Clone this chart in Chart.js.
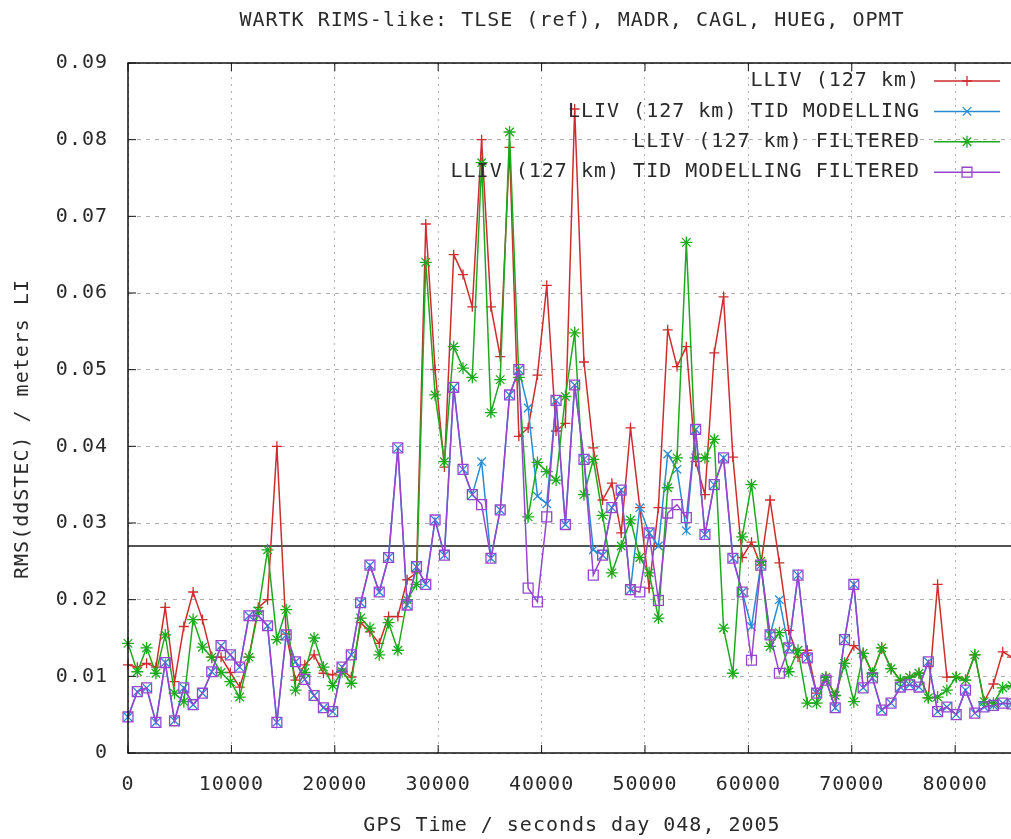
<!DOCTYPE html>
<html>
<head>
<meta charset="utf-8">
<script src="https://cdn.jsdelivr.net/npm/chart.js@4/dist/chart.umd.min.js"></script>
<style>
  body { margin: 0; background: #fff; }
  canvas { display: block; }
</style>
</head>
<body>
<canvas id="c" width="1011" height="839"></canvas>
<script>
// GPS epochs, every 900 s of day 048
const TIMES = [
  0, 900, 1800, 2700, 3600, 4500, 5400, 6300, 7200, 8100,
  9000, 9900, 10800, 11700, 12600, 13500, 14400, 15300, 16200, 17100,
  18000, 18900, 19800, 20700, 21600, 22500, 23400, 24300, 25200, 26100,
  27000, 27900, 28800, 29700, 30600, 31500, 32400, 33300, 34200, 35100,
  36000, 36900, 37800, 38700, 39600, 40500, 41400, 42300, 43200, 44100,
  45000, 45900, 46800, 47700, 48600, 49500, 50400, 51300, 52200, 53100,
  54000, 54900, 55800, 56700, 57600, 58500, 59400, 60300, 61200, 62100,
  63000, 63900, 64800, 65700, 66600, 67500, 68400, 69300, 70200, 71100,
  72000, 72900, 73800, 74700, 75600, 76500, 77400, 78300, 79200, 80100,
  81000, 81900, 82800, 83700, 84600, 85500
];

const X_TICKS = [0, 10000, 20000, 30000, 40000, 50000, 60000, 70000, 80000];
const Y_TICKS = [0, 0.01, 0.02, 0.03, 0.04, 0.05, 0.06, 0.07, 0.08, 0.09];

const LLIV = [
  .0115, .0112, .0117, .0112, .019, .0093, .0165, .021, .0174, .0125,
  .0125, .0105, .0086, .0125, .019, .020, .040, .0155, .0095, .0115,
  .0128, .0104, .0102, .0108, .0099, .017, .0158, .0143, .0178, .0178,
  .0226, .0235, .069, .050, .0373, .065, .0624, .0582, .080, .0582,
  .0517, .079, .0413, .0424, .0493, .061, .042, .043, .084, .051,
  .0398, .033, .0352, .0287, .0424, .032, .0215, .032, .0552, .0504,
  .053, .038, .0337, .0522, .0595, .0386, .0255, .0275, .0245, .033,
  .0248, .016, .0125, .0134, .0078, .0099, .0075, .0117, .014, .013,
  .0104, .0137, .011, .0095, .0099, .0104, .0072, .022, .0099, .0099,
  .0095, .0128, .0067, .009, .0132, .0125
];

const LLIV_TID = [
  .0047, .008, .0085, .004, .0118, .0042, .0085, .0063, .0078, .0106,
  .014, .0128, .0112, .0179, .0179, .0166, .004, .0154, .0119, .0096,
  .0075, .0059, .0054, .0112, .0128, .0196, .0245, .021, .0255, .0398,
  .0193, .0243, .022, .0304, .0258, .0477, .037, .0337, .038, .0254,
  .0317, .0467, .050, .045, .0335, .0325, .046, .0298, .048, .0383,
  .0265, .0258, .032, .0343, .0213, .032, .0287, .027, .039, .037,
  .029, .0422, .0285, .035, .0385, .0254, .021, .0165, .0245, .0154,
  .020, .0137, .0232, .0124, .0078, .0095, .0059, .0148, .022, .0085,
  .0098, .0056, .0065, .0086, .0089, .0086, .0119, .0054, .006, .005,
  .0082, .0052, .006, .0062, .0065, .0064
];

const LLIV_FILT = [
  .0143, .0106, .0137, .0104, .0154, .0078, .0067, .0174, .0138, .0125,
  .0105, .0093, .0073, .0125, .0185, .0265, .0148, .0187, .0082, .0105,
  .015, .0112, .0088, .0106, .0091, .0176, .0163, .0128, .017, .0134,
  .020, .022, .064, .0467, .038, .053, .0502, .049, .077, .0444,
  .0487, .081, .049, .0308, .0379, .0367, .0356, .0465, .0548, .0337,
  .0383, .031, .0235, .027, .0304, .0255, .0235, .0176, .0346, .0385,
  .0666, .0385, .0385, .0409, .0163, .0104, .0282, .035, .025, .0139,
  .0157, .0106, .0134, .0065, .0065, .0099, .0075, .0117, .0067, .013,
  .0104, .0137, .011, .0095, .0099, .0104, .0072, .0073, .0082, .0099,
  .0095, .0128, .0067, .0065, .0085, .0088
];

const LLIV_TID_FILT = [
  .0047, .008, .0085, .004, .0118, .0042, .0085, .0063, .0078, .0106,
  .014, .0128, .0112, .0179, .0179, .0166, .004, .0154, .0119, .0096,
  .0075, .0059, .0054, .0112, .0128, .0196, .0245, .021, .0255, .0398,
  .0193, .0243, .022, .0304, .0258, .0477, .037, .0337, .0324, .0254,
  .0317, .0467, .050, .0215, .0197, .0308, .046, .0298, .048, .0383,
  .0232, .0258, .032, .0343, .0213, .021, .0287, .0199, .0313, .0324,
  .0307, .0422, .0285, .035, .0385, .0254, .021, .0121, .0245, .0154,
  .0104, .0137, .0232, .0124, .0078, .0095, .0059, .0148, .022, .0085,
  .0098, .0056, .0065, .0086, .0089, .0086, .0119, .0054, .006, .005,
  .0082, .0052, .006, .0062, .0065, .0064
];

const THRESHOLD = 0.027;

const LABELS = [
  'LLIV (127 km)',
  'LLIV (127 km) TID MODELLING',
  'LLIV (127 km) FILTERED',
  'LLIV (127 km) TID MODELLING FILTERED'
];
const COLORS = ['rgb(205,45,45)', 'rgb(40,140,210)', 'rgb(30,170,30)', 'rgb(150,70,205)'];
const MARKERS = ['cross', 'crossRot', 'star', 'rect'];
const RADII = [5, 6, 6, 7];

const FONT = 'DejaVu Sans Mono';
const TEXT = '#2a2a2a';

function toPoints(values) {
  return values.map((v, i) => ({x: TIMES[i], y: v}));
}

function drawMarker(ctx, style, x, y, r) {
  ctx.beginPath();
  if (style === 'rect') {
    const s = Math.SQRT1_2 * r;
    ctx.rect(x - s, y - s, 2 * s, 2 * s);
  } else {
    if (style === 'cross' || style === 'star') {
      ctx.moveTo(x - r, y); ctx.lineTo(x + r, y);
      ctx.moveTo(x, y - r); ctx.lineTo(x, y + r);
    }
    if (style === 'crossRot' || style === 'star') {
      const d = Math.SQRT1_2 * r;
      ctx.moveTo(x - d, y - d); ctx.lineTo(x + d, y + d);
      ctx.moveTo(x - d, y + d); ctx.lineTo(x + d, y - d);
    }
  }
  ctx.stroke();
}

const gnuplotLook = {
  id: 'gnuplotLook',
  beforeDraw(chart) {
    chart.ctx.letterSpacing = '1px';
  },
  beforeDatasetsDraw(chart) {
    const {ctx, chartArea: a, scales: {y}} = chart;
    const py = y.getPixelForValue(THRESHOLD);
    ctx.save();
    ctx.strokeStyle = '#1a1a1a';
    ctx.lineWidth = 1.6;
    ctx.beginPath();
    ctx.moveTo(a.left, py);
    ctx.lineTo(a.right, py);
    ctx.stroke();
    ctx.restore();
  },
  afterDraw(chart) {
    const {ctx, chartArea: a, scales: {x, y}} = chart;
    ctx.save();

    // frame (right side is cut off in the original)
    ctx.strokeStyle = '#111';
    ctx.lineWidth = 1.5;
    ctx.beginPath();
    ctx.moveTo(a.right, a.top);
    ctx.lineTo(a.left, a.top);
    ctx.lineTo(a.left, a.bottom);
    ctx.lineTo(a.right, a.bottom);
    ctx.stroke();

    // inward ticks
    ctx.lineWidth = 1;
    ctx.beginPath();
    x.ticks.forEach(t => {
      const px = x.getPixelForValue(t.value);
      ctx.moveTo(px, a.bottom); ctx.lineTo(px, a.bottom - 8);
      ctx.moveTo(px, a.top); ctx.lineTo(px, a.top + 8);
    });
    y.ticks.forEach(t => {
      const py = y.getPixelForValue(t.value);
      ctx.moveTo(a.left, py); ctx.lineTo(a.left + 8, py);
    });
    ctx.stroke();

    ctx.fillStyle = TEXT;
    ctx.font = '20px ' + FONT;
    ctx.letterSpacing = '1px';
    ctx.textBaseline = 'middle';

    // title
    ctx.textAlign = 'center';
    ctx.fillText('WARTK RIMS-like: TLSE (ref), MADR, CAGL, HUEG, OPMT', 572, 21);

    // x axis title
    ctx.fillText('GPS Time / seconds day 048, 2005', 572, 826);

    // y axis title
    ctx.save();
    ctx.translate(23, 429);
    ctx.rotate(-Math.PI / 2);
    ctx.fillText('RMS(ddSTEC) / meters LI', 0, 0);
    ctx.restore();

    // legend, gnuplot style: right aligned text then a sample
    chart.data.datasets.forEach((ds, i) => {
      const ly = 81 + i * 30.4;
      ctx.textAlign = 'right';
      ctx.fillStyle = TEXT;
      ctx.fillText(ds.label, 920, ly);
      ctx.strokeStyle = ds.borderColor;
      ctx.lineWidth = 1.5;
      ctx.beginPath();
      ctx.moveTo(934, ly);
      ctx.lineTo(1000, ly);
      ctx.stroke();
      ctx.lineWidth = 1.3;
      drawMarker(ctx, ds.pointStyle, 967, ly, ds.pointRadius);
    });

    ctx.restore();
  }
};

const series = [LLIV, LLIV_TID, LLIV_FILT, LLIV_TID_FILT];

new Chart(document.getElementById('c'), {
  type: 'line',
  data: {
    datasets: series.map((vals, i) => ({
      label: LABELS[i],
      data: toPoints(vals),
      borderColor: COLORS[i],
      backgroundColor: 'transparent',
      borderWidth: 1.5,
      tension: 0,
      pointStyle: MARKERS[i],
      pointRadius: RADII[i],
      pointBorderWidth: 1.3,
      pointBorderColor: COLORS[i],
      pointBackgroundColor: 'transparent',
      order: 4 - i,
      clip: false
    }))
  },
  options: {
    responsive: false,
    animation: false,
    events: [],
    layout: {autoPadding: false, padding: {top: 63, right: 0, left: 0, bottom: 0}},
    plugins: {
      legend: {display: false},
      title: {display: false},
      tooltip: {enabled: false}
    },
    scales: {
      x: {
        type: 'linear',
        min: 0,
        max: 85400,
        afterBuildTicks(scale) { scale.ticks = X_TICKS.map(v => ({value: v})); },
        afterFit(scale) {
          scale.height = 839 - 753;
          scale.paddingLeft = 0;
          scale.paddingRight = 0;
        },
        ticks: {
          maxRotation: 0,
          autoSkip: false,
          padding: 20,
          color: TEXT,
          font: {family: FONT, size: 20},
          callback: v => String(v)
        },
        grid: {color: '#b0b0b0', lineWidth: 1, drawTicks: false},
        border: {display: false, dash: [2, 5]}
      },
      y: {
        min: 0,
        max: 0.09,
        afterBuildTicks(scale) { scale.ticks = Y_TICKS.map(v => ({value: v})); },
        afterFit(scale) {
          scale.width = 128;
          scale.paddingTop = 0;
          scale.paddingBottom = 0;
        },
        ticks: {
          padding: 20,
          color: TEXT,
          font: {family: FONT, size: 20},
          callback: v => (v === 0 ? '0' : v.toFixed(2))
        },
        grid: {color: '#b0b0b0', lineWidth: 1, drawTicks: false},
        border: {display: false, dash: [4, 5]}
      }
    }
  },
  plugins: [gnuplotLook]
});
</script>
</body>
</html>
